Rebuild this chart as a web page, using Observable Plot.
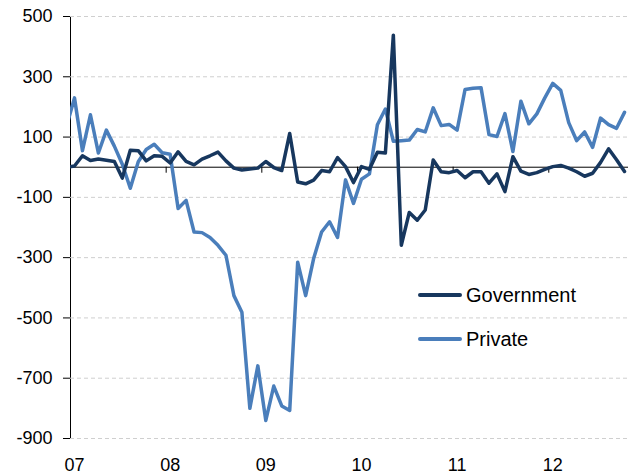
<!DOCTYPE html>
<html>
<head>
<meta charset="utf-8">
<script src="https://cdn.jsdelivr.net/npm/d3@7"></script>
<script src="https://cdn.jsdelivr.net/npm/@observablehq/plot@0.6"></script>
<style>
  body { margin: 0; background: #fff; }
  #wrap { position: relative; width: 634px; height: 475px; font-family: "Liberation Sans", Arial, sans-serif; }
  .leg { position: absolute; left: 418px; height: 24px; display: flex; align-items: center; font-size: 20px; color: #000; white-space: nowrap; }
  .leg .sw { display: inline-block; width: 44px; height: 4px; border-radius: 2px; margin-right: 4px; }
</style>
</head>
<body>
<div id="wrap"></div>
<script>
// Monthly change, Dec 2006 .. Oct 2012 (first value lies just left of the plot frame)
const government = [
  0, 4, 38, 22, 27, 23, 19, -36, 56, 55, 21, 38, 36,
  14, 51, 19, 8, 27, 38, 50, 21, -3, -9, -6, -3,
  19, -1, -11, 112, -49, -55, -43, -11, -15, 32, 2, -51,
  2, -7, 50, 47, 438, -259, -150, -176, -142, 24, -15, -18,
  -11, -35, -15, -15, -53, -22, -81, 35, -13, -24, -18, -7,
  2, 6, -3, -15, -30, -20, 16, 61, 25, -14
];
const privateSector = [
  135, 230, 55, 174, 47, 123, 70, 10, -70, 18, 59, 76, 48,
  43, -137, -110, -215, -217, -233, -259, -292, -426, -481, -800, -659,
  -840, -726, -792, -807, -315, -426, -303, -215, -181, -233, -42, -120,
  -40, -22, 141, 193, 86, 88, 90, 125, 117, 197, 138, 142,
  123, 258, 262, 264, 108, 102, 178, 52, 219, 144, 177, 230,
  278, 255, 148, 88, 117, 66, 163, 141, 129, 182
];
const yearLabels = ["07", "08", "09", "10", "11", "12"];
const yTicks = [-900, -700, -500, -300, -100, 100, 300, 500];
const seriesNames = ["Government", "Private"];
const seriesColors = ["#17375e", "#4a7ebb"];

// month index: 0 = Jan 2007 (category position)
const rows = [];
privateSector.forEach((v, i) => rows.push({m: i - 1, v, s: "Private"}));
government.forEach((v, i) => rows.push({m: i - 1, v, s: "Government"}));
const yearStarts = yearLabels.map((_, k) => k * 12);
const yearBoundaries = yearStarts.map(m => m - 0.5);

const chart = Plot.plot({
  width: 634,
  height: 475,
  marginLeft: 70,
  marginRight: 6,
  marginTop: 16,
  marginBottom: 37,
  style: {fontFamily: "Liberation Sans, Arial, sans-serif", fontSize: "18px", color: "#000", background: "#fff", overflow: "visible"},
  x: {
    domain: [-0.5, 69.5],
    ticks: yearStarts,
    tickFormat: m => yearLabels[Math.round(m / 12)],
    tickSize: 0,
    tickPadding: 20,
    label: null
  },
  y: {
    domain: [-900, 500],
    ticks: yTicks,
    tickSize: 7,
    tickPadding: 11,
    tickFormat: d => String(d),
    line: true,
    label: null
  },
  color: {domain: seriesNames, range: seriesColors},
  marks: [
    Plot.ruleY(yTicks, {stroke: "#cfcfcf", strokeWidth: 1, strokeDasharray: "4,3"}),
    Plot.ruleY([0], {stroke: "#000", strokeWidth: 1}),
    Plot.ruleX(yearBoundaries, {x: d => d, y1: 0, y2: 0, insetBottom: -6, stroke: "#000", strokeWidth: 1}),
    Plot.line(rows, {x: "m", y: "v", z: "s", stroke: "s", strokeWidth: 3.5, strokeLinejoin: "round", clip: true})
  ]
});

const wrap = document.getElementById("wrap");
wrap.appendChild(chart);

const legendTops = [283, 327];
seriesNames.forEach((name, i) => {
  const d = document.createElement("div");
  d.className = "leg";
  d.style.top = legendTops[i] + "px";
  const sw = document.createElement("span");
  sw.className = "sw";
  sw.style.background = seriesColors[i];
  d.appendChild(sw);
  d.appendChild(document.createTextNode(name));
  wrap.appendChild(d);
});
</script>
</body>
</html>
